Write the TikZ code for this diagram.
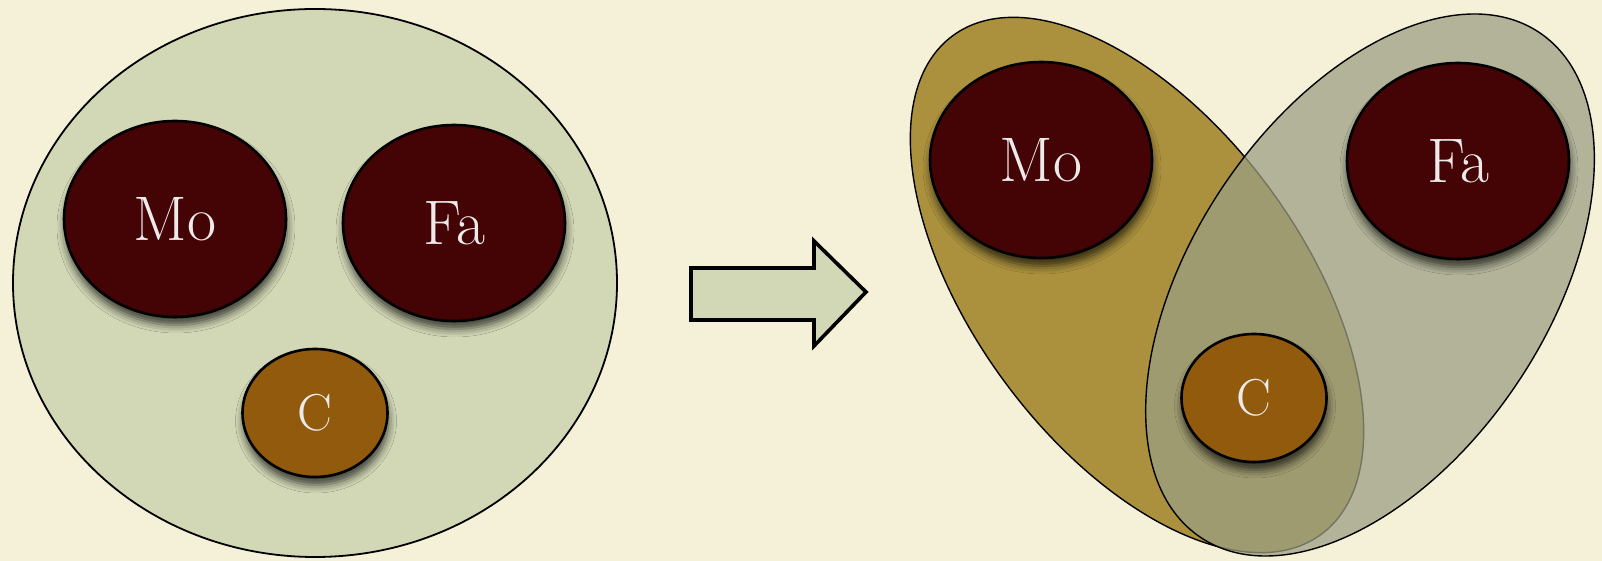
\documentclass[tikz,border=0pt]{standalone}
\usetikzlibrary{shapes.geometric,shadows.blur}
\definecolor{bgc}{HTML}{F5F0D8}
\definecolor{sagec}{HTML}{D2D8B6}
\definecolor{goldc}{HTML}{AB913E}
\definecolor{greyc}{RGB}{155,159,130}
\definecolor{maroonc}{HTML}{440305}
\definecolor{brownc}{HTML}{925A0C}
\definecolor{txtc}{HTML}{EDEBEA}
\begin{document}
\begin{tikzpicture}[x=1pt,y=1pt,
  bigblob/.style={ellipse,draw=black,line width=2.6pt,fill=maroonc,minimum width=222pt,minimum height=196pt,inner sep=0pt,
    text=txtc,font=\fontsize{63}{63}\selectfont,
    blur shadow={shadow xshift=1pt,shadow yshift=-8pt,shadow blur radius=8pt,shadow opacity=70}},
  smallblob/.style={ellipse,draw=black,line width=2.6pt,fill=brownc,minimum width=145pt,minimum height=128pt,inner sep=0pt,
    text=txtc,font=\fontsize{52}{52}\selectfont,
    blur shadow={shadow xshift=1pt,shadow yshift=-8pt,shadow blur radius=8pt,shadow opacity=70}},
  setline/.style={draw=black,line width=1.4pt}]
\fill[bgc] (0,0) rectangle (1602,561);
\useasboundingbox (0,0) rectangle (1602,561);
% left group
\filldraw[fill=sagec,draw=black,line width=1.8pt] (315,278) ellipse [x radius=302,y radius=274];
\node[bigblob] (mo1) at (175,342) {Mo};
\node[bigblob] (fa1) at (454,338) {Fa};
\node[smallblob] (c1) at (315,148) {C};
% arrow
\coordinate (a1) at (691,241);
\coordinate (a2) at (691,293);
\coordinate (a3) at (814,293);
\coordinate (a4) at (814,320);
\coordinate (a5) at (866,269);
\coordinate (a6) at (814,215);
\coordinate (a7) at (814,241);
\filldraw[fill=sagec,draw=black,line width=3.6pt,line join=miter] (a1) -- (a2) -- (a3) -- (a4) -- (a5) -- (a6) -- (a7) -- cycle;
% right group
\filldraw[fill=goldc,setline] (1137,276) ellipse [x radius=310,y radius=164,rotate=-53.5];
\filldraw[fill=greyc,fill opacity=0.74,setline] (1370,276) ellipse [x radius=304,y radius=177,rotate=56.1];
\node[bigblob] (mo2) at (1041,401) {Mo};
\node[bigblob] (fa2) at (1458,400) {Fa};
\node[smallblob] (c2) at (1254,163) {C};
\end{tikzpicture}
\end{document}
